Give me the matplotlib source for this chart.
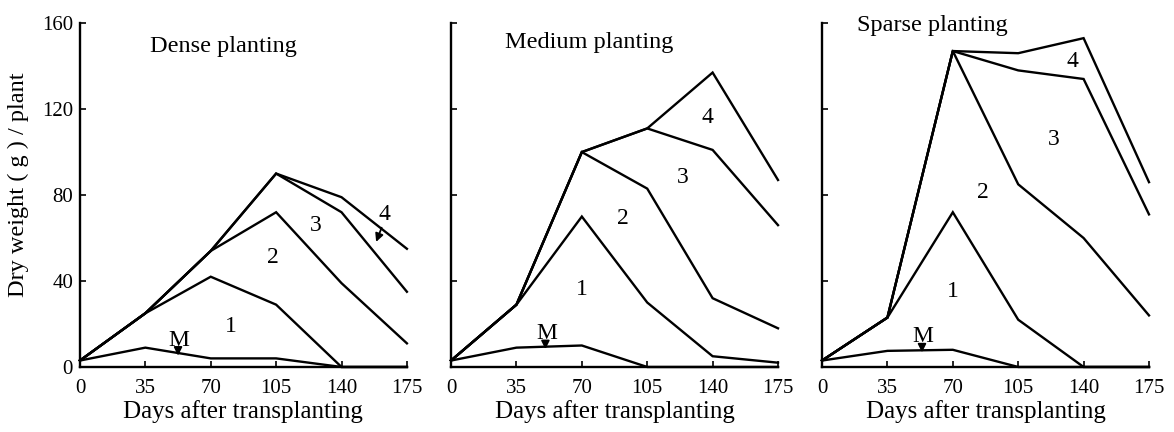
import numpy as np
import matplotlib
matplotlib.use("Agg")
import matplotlib.pyplot as plt

plt.rcParams['font.family'] = ['Liberation Serif', 'DejaVu Serif']

days = [0, 35, 70, 105, 140, 175]

# cumulative dry weight curves (g/plant): M, 1, 2, 3, 4
dense = {
    'M': [3, 9, 4, 4, 0, 0],
    '1': [3, 25, 42, 29, 0, 0],
    '2': [3, 25, 54, 72, 39, 11],
    '3': [3, 25, 54, 90, 72, 35],
    '4': [3, 25, 54, 90, 79, 55],
}
medium = {
    'M': [3, 9, 10, 0, 0, 0],
    '1': [3, 29, 70, 30, 5, 2],
    '2': [3, 29, 100, 83, 32, 18],
    '3': [3, 29, 100, 111, 101, 66],
    '4': [3, 29, 100, 111, 137, 87],
}
sparse = {
    'M': [3, 7.5, 8, 0, 0, 0],
    '1': [3, 23, 72, 22, 0, 0],
    '2': [3, 23, 147, 85, 60, 24],
    '3': [3, 23, 147, 138, 134, 71],
    '4': [3, 23, 147, 146, 153, 86],
}

titles = ['Dense planting', 'Medium planting', 'Sparse planting']
title_pos = [(77, 149), (74, 151), (59, 159)]

# region label positions (days, g)
labels = [
    {'1': (81, 19), '2': (103, 51), '3': (126, 66), '4': (163, 71), 'M': (53, 12.5)},
    {'1': (70, 36), '2': (92, 69), '3': (124, 88), '4': (137, 116), 'M': (51, 15.5)},
    {'1': (70, 35), '2': (86, 81), '3': (124, 106), '4': (134, 142), 'M': (54, 14)},
]

fig = plt.figure(figsize=(11.74, 4.32), dpi=100)
lefts = [0.0681, 0.3842, 0.7002]
panels = [dense, medium, sparse]

for i, (data, left) in enumerate(zip(panels, lefts)):
    ax = fig.add_axes([left, 0.1505, 0.2785, 0.796])
    for key in ['M', '1', '2', '3', '4']:
        ax.plot(days, data[key], color='black', lw=1.7, clip_on=False, solid_joinstyle='miter')
    ax.set_xlim(0, 175)
    ax.set_ylim(0, 160)
    ax.set_xticks(days)
    ax.set_yticks([0, 40, 80, 120, 160])
    ax.spines['top'].set_visible(False)
    ax.spines['right'].set_visible(False)
    ax.spines['left'].set_linewidth(1.7)
    ax.spines['bottom'].set_linewidth(1.7)
    ax.tick_params(direction='in', length=4, width=1.2, labelsize=15)
    ax.tick_params(axis='x', pad=9)
    ax.tick_params(axis='y', pad=5)
    if i > 0:
        ax.set_yticklabels([])
    else:
        ax.set_ylabel('Dry weight ( g ) / plant', fontsize=17.5)
        ax.yaxis.set_label_coords(-0.155, 0.53)
    ax.set_xlabel('Days after transplanting', fontsize=18, labelpad=1)

    tx, ty = title_pos[i]
    ax.text(tx, ty, titles[i], fontsize=17.5, ha='center', va='center')

    for key, (lx, ly) in labels[i].items():
        ax.text(lx, ly, key, fontsize=17, ha='center', va='center')
    # arrow under M
    mx, my = labels[i]['M']
    ax.annotate('', xy=(mx - 0.5, my - 8.5), xytext=(mx - 0.5, my - 3.5),
                arrowprops=dict(arrowstyle='-|>', color='black', lw=1.3, mutation_scale=12))
    if i == 0:
        ax.annotate('', xy=(158, 57), xytext=(162, 66),
                    arrowprops=dict(arrowstyle='-|>', color='black', lw=1.3, mutation_scale=12))

fig.savefig('out.png', dpi=100)
